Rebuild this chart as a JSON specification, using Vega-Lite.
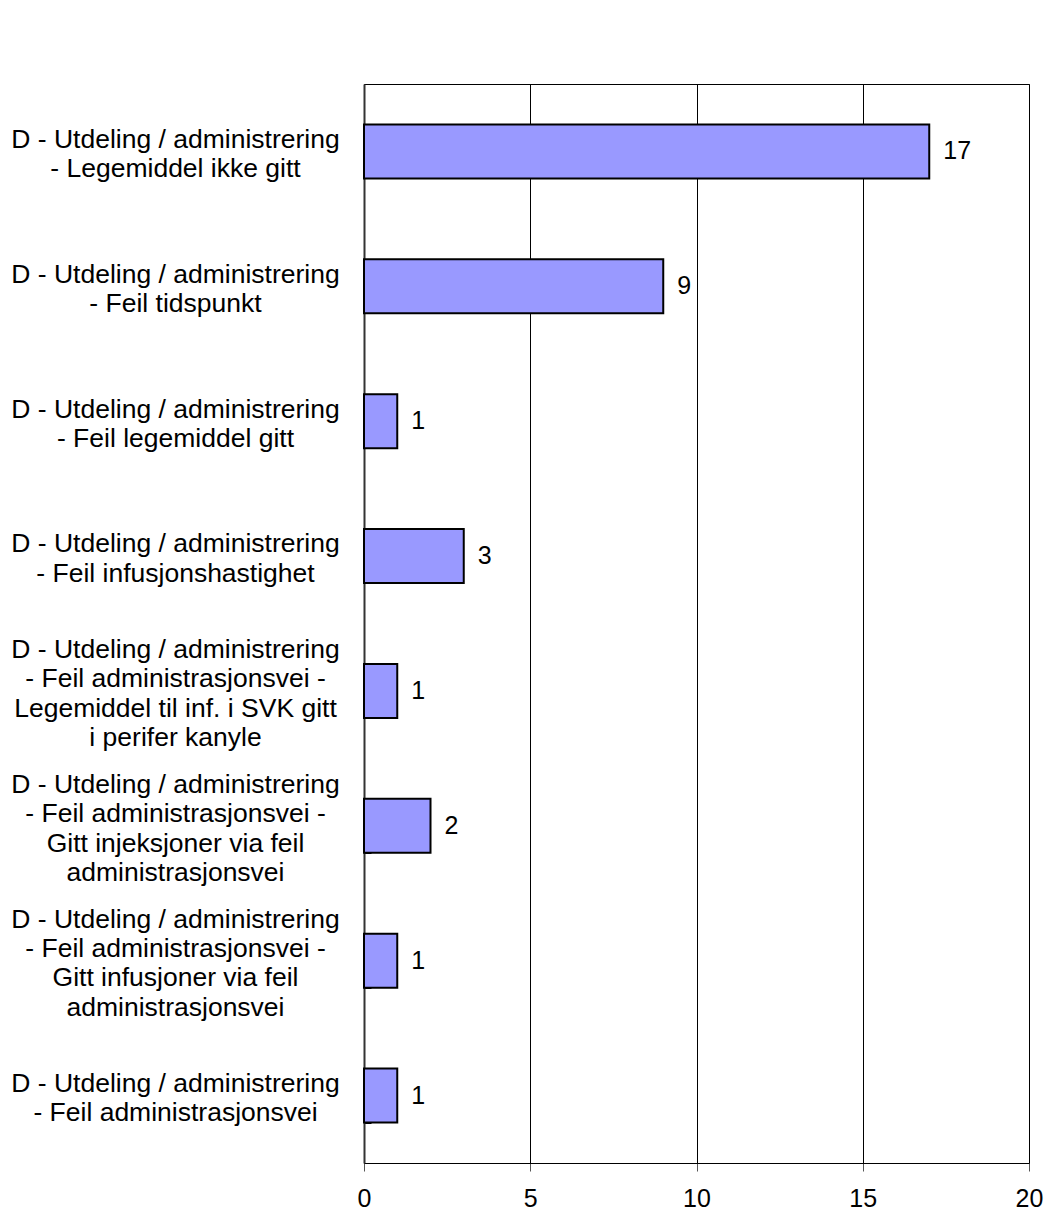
{
  "$schema": "https://vega.github.io/schema/vega-lite/v6.json",
  "width": 665,
  "height": 1079,
  "autosize": {"type": "none"},
  "padding": {"left": 364, "top": 84, "right": 35, "bottom": 69},
  "background": "white",
  "config": {
    "font": "Liberation Sans",
    "view": {"stroke": "black", "strokeWidth": 1}
  },
  "data": {
    "values": [
      {"kategori": "D - Utdeling / administrering|- Legemiddel ikke gitt", "antall": 17},
      {"kategori": "D - Utdeling / administrering|- Feil tidspunkt", "antall": 9},
      {"kategori": "D - Utdeling / administrering|- Feil legemiddel gitt", "antall": 1},
      {"kategori": "D - Utdeling / administrering|- Feil infusjonshastighet", "antall": 3},
      {"kategori": "D - Utdeling / administrering|- Feil administrasjonsvei -|Legemiddel til inf. i SVK gitt|i perifer kanyle", "antall": 1},
      {"kategori": "D - Utdeling / administrering|- Feil administrasjonsvei -|Gitt injeksjoner via feil|administrasjonsvei", "antall": 2},
      {"kategori": "D - Utdeling / administrering|- Feil administrasjonsvei -|Gitt infusjoner via feil|administrasjonsvei", "antall": 1},
      {"kategori": "D - Utdeling / administrering|- Feil administrasjonsvei", "antall": 1}
    ]
  },
  "encoding": {
    "y": {
      "field": "kategori",
      "type": "nominal",
      "sort": null,
      "title": null,
      "scale": {"paddingInner": 0.6, "paddingOuter": 0.3},
      "axis": {
        "labelExpr": "datum.value ? split(datum.value, '|') : ''",
        "labelOffset": {"expr": "datum.value ? 2.5 - (length(split(datum.value, '|')) - 1) * 14.6 : 0"},
        "labelAlign": "center",
        "labelBaseline": "middle",
        "labelPadding": 196,
        "labelFontSize": 26.5,
        "labelLineHeight": 29.3,
        "labelColor": "black",
        "labelLimit": 400,
        "tickBand": "extent",
        "tickSize": -7,
        "tickColor": "black",
        "domainColor": "#333333",
        "domainWidth": 2,
        "grid": false
      }
    },
    "x": {
      "field": "antall",
      "type": "quantitative",
      "title": null,
      "scale": {"domain": [0, 20]},
      "axis": {
        "values": [0, 5, 10, 15, 20],
        "labelFlush": false,
        "labelFontSize": 25,
        "labelColor": "black",
        "labelPadding": 15,
        "tickSize": 8,
        "tickColor": "#555555",
        "domainColor": "black",
        "grid": true,
        "gridColor": "black",
        "gridOpacity": 1,
        "gridWidth": 1
      }
    }
  },
  "layer": [
    {
      "mark": {"type": "bar", "color": "#9999FF", "stroke": "black", "strokeWidth": 2}
    },
    {
      "mark": {"type": "text", "align": "left", "baseline": "middle", "dx": 14, "fontSize": 25, "color": "black"},
      "encoding": {"text": {"field": "antall", "type": "quantitative"}}
    }
  ]
}
